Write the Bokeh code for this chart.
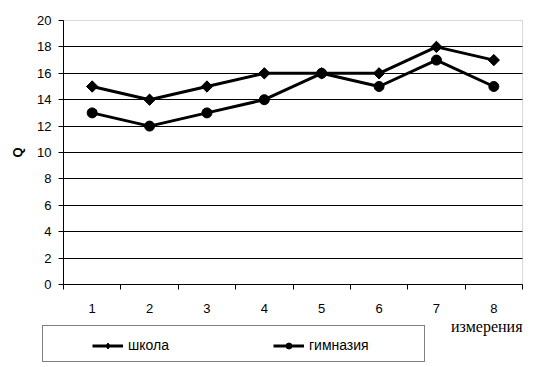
import math
from bokeh.plotting import figure
from bokeh.models import (Range1d, FixedTicker, Legend, LegendItem, Label, BoxAnnotation)
from bokeh.embed import file_html
from bokeh.resources import INLINE

# data
measurements = [1, 2, 3, 4, 5, 6, 7, 8]
school = [15, 14, 15, 16, 16, 16, 18, 17]
gymnasium = [13, 12, 13, 14, 16, 15, 17, 15]
series_names = ["школа", "гимназия"]
y_ticks = [0, 2, 4, 6, 8, 10, 12, 14, 16, 18, 20]
x_title = "измерения"
y_title = "Q"

FONT = "Liberation Sans"
W, H = 539, 367
# plot-area placement in pixels
L, R, T, B = 63, 522, 20, 284
x_lo, x_hi = measurements[0] - 0.5, measurements[-1] + 0.5
y_lo, y_hi = y_ticks[0], y_ticks[-1]
sx = (R - L) / (x_hi - x_lo)
sy = (B - T) / (y_hi - y_lo)

p = figure(width=W, height=H, output_backend="svg", toolbar_location=None,
           x_range=Range1d(x_lo - L / sx, x_hi + (W - R) / sx),
           y_range=Range1d(y_lo - (H - B) / sy, y_hi + T / sy),
           min_border=0, min_border_left=0, min_border_right=0,
           min_border_top=0, min_border_bottom=0)
p.background_fill_color = "white"
p.border_fill_color = "white"
p.outline_line_color = None

# x axis, fixed at y = 0
xa = p.xaxis[0]
xa.fixed_location = y_lo
xa.bounds = (x_lo, x_hi)
xa.ticker = FixedTicker(ticks=measurements,
                        minor_ticks=[m - 0.5 for m in measurements] + [x_hi])
xa.major_tick_out = 0
xa.major_tick_in = 0
xa.minor_tick_out = 5
xa.minor_tick_in = 0
xa.minor_tick_line_color = "black"
xa.axis_line_color = "black"
xa.major_label_standoff = 14
xa.major_label_text_font = FONT
xa.major_label_text_font_size = "13px"
xa.major_label_text_color = "black"

# y axis, fixed at x = 0.5
ya = p.yaxis[0]
ya.fixed_location = x_lo
ya.bounds = (y_lo, y_hi)
ya.ticker = FixedTicker(ticks=y_ticks, minor_ticks=[])
ya.major_tick_out = 5
ya.major_tick_in = 0
ya.major_tick_line_color = "black"
ya.axis_line_color = "black"
ya.major_label_standoff = 7
ya.major_label_text_font = FONT
ya.major_label_text_font_size = "13px"
ya.major_label_text_color = "black"
ya.axis_label = y_title
ya.axis_label_text_font = FONT
ya.axis_label_text_font_size = "13px"
ya.axis_label_text_font_style = "bold"
ya.axis_label_text_color = "black"
ya.axis_label_standoff = 9

p.xgrid.grid_line_color = None
p.ygrid.ticker = FixedTicker(ticks=y_ticks[1:-1])
p.ygrid.grid_line_color = "black"
p.ygrid.grid_line_width = 1
p.ygrid.bounds = (y_lo, y_hi)
try:
    p.ygrid.cross_bounds = (x_lo, x_hi)
except Exception:
    p.ygrid.grid_line_color = None
    p.segment(x0=x_lo, x1=x_hi, y0=y_ticks[1:-1], y1=y_ticks[1:-1],
              line_color="black", line_width=1)

# gray plot-area border
p.add_layout(BoxAnnotation(left=x_lo, right=x_hi, bottom=y_lo, top=y_hi,
                           fill_alpha=0, line_color="#808080", line_width=1,
                           level="underlay"))

# series
l1 = p.line(measurements, school, line_color="black", line_width=3)
d1 = p.scatter(measurements, school, marker="diamond", size=10,
               fill_color="black", line_color="black")
s1 = p.scatter(measurements, school, marker="square", size=8, angle=math.pi / 4,
               fill_color="black", line_color="black")
l2 = p.line(measurements, gymnasium, line_color="black", line_width=3)
s2 = p.scatter(measurements, gymnasium, marker="circle", size=10,
               fill_color="black", line_color="black")

# x title
p.add_layout(Label(x=x_hi, y=y_lo - 42 / sy, text=x_title, text_align="right",
                   text_baseline="alphabetic", text_font="Liberation Serif",
                   text_font_size="16px", text_color="black"))

# legend box
box = Legend(items=[LegendItem(label=" ", renderers=[l1])],
             location=(42, 5), padding=0, spacing=0, margin=0,
             glyph_width=0, glyph_height=35, label_standoff=0,
             label_width=381, label_height=35,
             border_line_color="black", border_line_width=1,
             background_fill_color="white", background_fill_alpha=1.0)
p.add_layout(box)

leg = Legend(items=[LegendItem(label=series_names[0], renderers=[l1, d1]),
                    LegendItem(label=series_names[1], renderers=[l2, s2])],
             orientation="horizontal", location=(92, 14), padding=0,
             spacing=104, margin=0, glyph_width=31, glyph_height=15,
             label_standoff=5, label_height=15,
             label_text_font=FONT, label_text_font_size="14px",
             label_text_color="black",
             border_line_color=None, background_fill_alpha=0)
p.add_layout(leg)

open("out.html", "w").write(file_html(p, INLINE))
